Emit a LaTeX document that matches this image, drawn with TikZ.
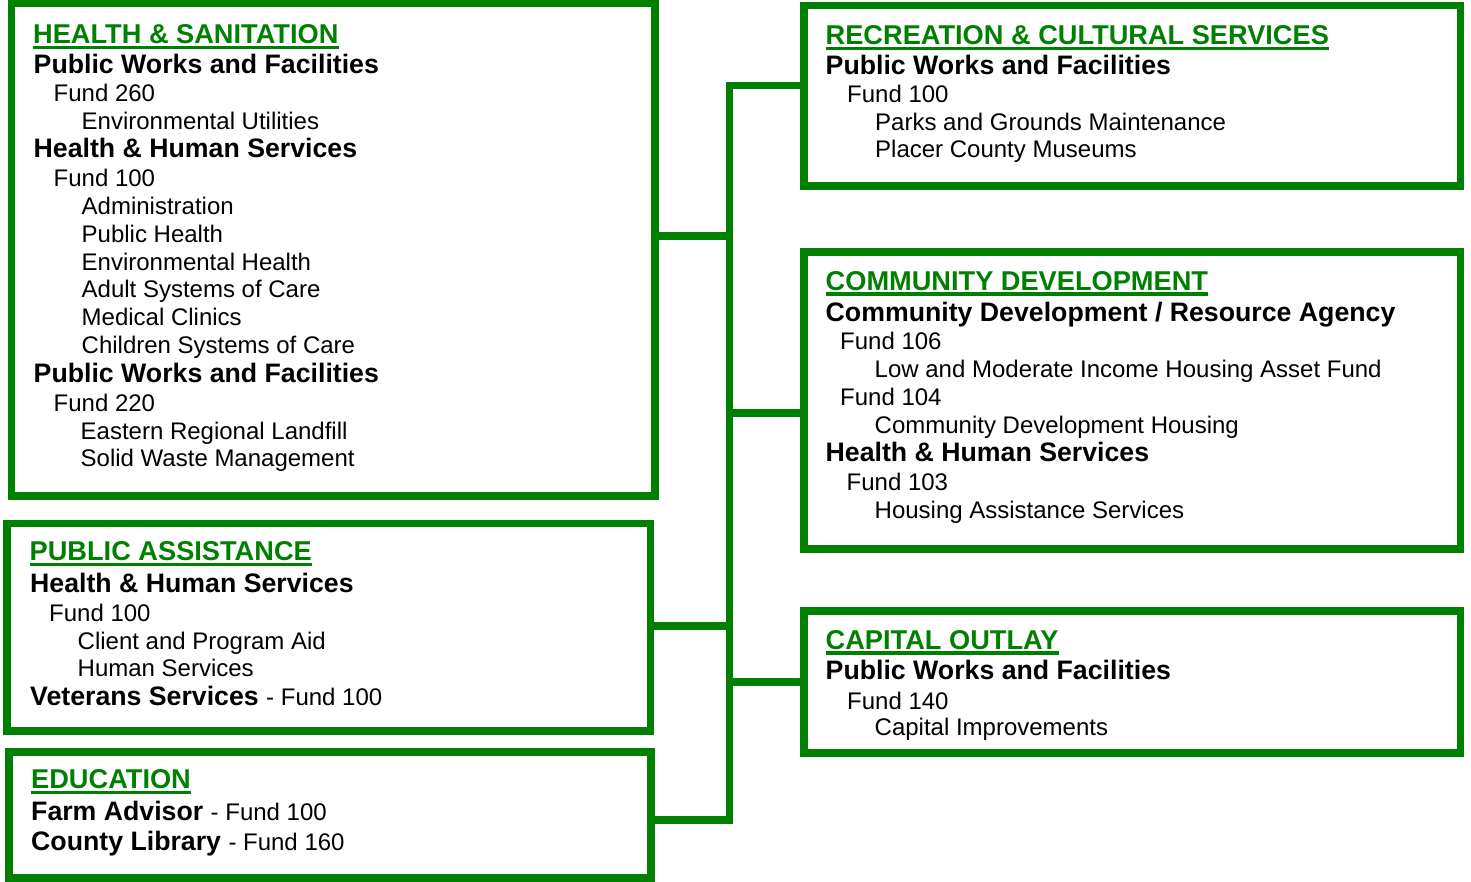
\documentclass[tikz,border=0pt]{standalone}
\usepackage{fontspec}
\setmainfont{Liberation Sans}
\definecolor{tgreen}{RGB}{0,128,0}
\tikzset{
  box/.style={draw=tgreen, line width=7.5pt, rectangle, inner sep=0pt},
  conn/.style={draw=tgreen, line width=7.5pt},
  uline/.style={draw=tgreen, line width=3.3pt},
  ttl/.style={anchor=base west, inner sep=0pt, yshift=-0.8pt, font=\bfseries\fontsize{27.2}{30}\selectfont, text=tgreen},
  hd/.style={anchor=base west, inner sep=0pt, yshift=-0.8pt, font=\bfseries\fontsize{26.7}{30}\selectfont},
  tx/.style={anchor=base west, inner sep=0pt, yshift=-0.8pt, font=\fontsize{24}{28}\selectfont},
}
\newcommand{\rg}[1]{{\mdseries\fontsize{24}{28}\selectfont #1}}
\begin{document}
\begin{tikzpicture}[x=1pt, y=-1pt]
\useasboundingbox[fill=white] (0,0) rectangle (1471,881);

% boxes
\node[box, minimum width=643.5pt, minimum height=492.5pt] (hs) at (333,249.75) {};
\node[box, minimum width=643.3pt, minimum height=207.5pt] (pa) at (328.65,627.25) {};
\node[box, minimum width=642.2pt, minimum height=126pt] (ed) at (329.9,815) {};
\node[box, minimum width=656.5pt, minimum height=180.5pt] (rc) at (1132.25,95.75) {};
\node[box, minimum width=656.5pt, minimum height=297pt] (cd) at (1132.25,400.5) {};
\node[box, minimum width=656.5pt, minimum height=142pt] (co) at (1132.25,682) {};

% spine coordinates
\coordinate (sTop) at (729.5,85.5);
\coordinate (sHs) at (729.5,236);
\coordinate (sCd) at (729.5,413);
\coordinate (sPa) at (729.5,626);
\coordinate (sCo) at (729.5,682);
\coordinate (sBot) at (729.5,820);

\draw[conn] (rc.west |- sTop) -- (sTop) -- (sBot) -- (ed.east |- sBot);
\draw[conn] (hs.east |- sHs) -- (sHs);
\draw[conn] (sCd) -- (cd.west |- sCd);
\draw[conn] (pa.east |- sPa) -- (sPa);
\draw[conn] (sCo) -- (co.west |- sCo);

% HEALTH & SANITATION
\node[ttl] (t1) at (33,42.7) {HEALTH \& SANITATION};
\draw[uline] ([yshift=-4pt]t1.base west) -- ([yshift=-4pt]t1.base east);
\node[hd] (h1a) at (33.5,72.7) {Public Works and Facilities};
\node[tx] (h1b) at (53.5,100.7) {Fund 260};
\node[tx] (h1c) at (81.5,128.5) {Environmental Utilities};
\node[hd] (h1d) at (33.5,156.7) {Health \& Human Services};
\node[tx] (h1e) at (53.5,186) {Fund 100};
\node[tx] (h1f) at (81.5,214) {Administration};
\node[tx] (h1g) at (81.5,241.7) {Public Health};
\node[tx] (h1h) at (81.5,269.3) {Environmental Health};
\node[tx] (h1i) at (81.5,296.7) {Adult Systems of Care};
\node[tx] (h1j) at (81.5,324.3) {Medical Clinics};
\node[tx] (h1k) at (81.5,352.7) {Children Systems of Care};
\node[hd] (h1l) at (33.5,381.7) {Public Works and Facilities};
\node[tx] (h1m) at (53.5,411) {Fund 220};
\node[tx] (h1n) at (80.5,439) {Eastern Regional Landfill};
\node[tx] (h1o) at (80.5,466) {Solid Waste Management};

% PUBLIC ASSISTANCE
\node[ttl] (t2) at (29.5,560) {PUBLIC ASSISTANCE};
\draw[uline] ([yshift=-4pt]t2.base west) -- ([yshift=-4pt]t2.base east);
\node[hd] (p1) at (30,591.7) {Health \& Human Services};
\node[tx] (p2) at (49,620.7) {Fund 100};
\node[tx] (p3) at (77.5,648.3) {Client and Program Aid};
\node[tx] (p4) at (77.5,676) {Human Services};
\node[hd] (p5) at (30,705) {Veterans Services \rg{- Fund 100}};

% EDUCATION
\node[ttl] (t3) at (31,787.7) {EDUCATION};
\draw[uline] ([yshift=-4pt]t3.base west) -- ([yshift=-4pt]t3.base east);
\node[hd] (e1) at (31,819.3) {Farm Advisor \rg{- Fund 100}};
\node[hd] (e2) at (31,849.3) {County Library \rg{- Fund 160}};

% RECREATION
\node[ttl] (t4) at (825.5,43.5) {RECREATION \& CULTURAL SERVICES};
\draw[uline] ([yshift=-4pt]t4.base west) -- ([yshift=-4pt]t4.base east);
\node[hd] (r1) at (825.5,74) {Public Works and Facilities};
\node[tx] (r2) at (847,101.7) {Fund 100};
\node[tx] (r3) at (875,129.3) {Parks and Grounds Maintenance};
\node[tx] (r4) at (875,156.7) {Placer County Museums};

% COMMUNITY DEVELOPMENT
\node[ttl] (t5) at (825.5,289.3) {COMMUNITY DEVELOPMENT};
\draw[uline] ([yshift=-4pt]t5.base west) -- ([yshift=-4pt]t5.base east);
\node[hd] (c1) at (825.5,320.7) {Community Development / Resource Agency};
\node[tx] (c2) at (840,349) {Fund 106};
\node[tx] (c3) at (874.5,376.7) {Low and Moderate Income Housing Asset Fund};
\node[tx] (c4) at (840,404.3) {Fund 104};
\node[tx] (c5) at (874.5,432.3) {Community Development Housing};
\node[hd] (c6) at (825.5,461) {Health \& Human Services};
\node[tx] (c7) at (846.5,490) {Fund 103};
\node[tx] (c8) at (874.5,517.3) {Housing Assistance Services};

% CAPITAL OUTLAY
\node[ttl] (t6) at (825.5,648.3) {CAPITAL OUTLAY};
\draw[uline] ([yshift=-4pt]t6.base west) -- ([yshift=-4pt]t6.base east);
\node[hd] (k1) at (825.5,678.3) {Public Works and Facilities};
\node[tx] (k2) at (847,708.3) {Fund 140};
\node[tx] (k3) at (874.5,735) {Capital Improvements};
\end{tikzpicture}
\end{document}
